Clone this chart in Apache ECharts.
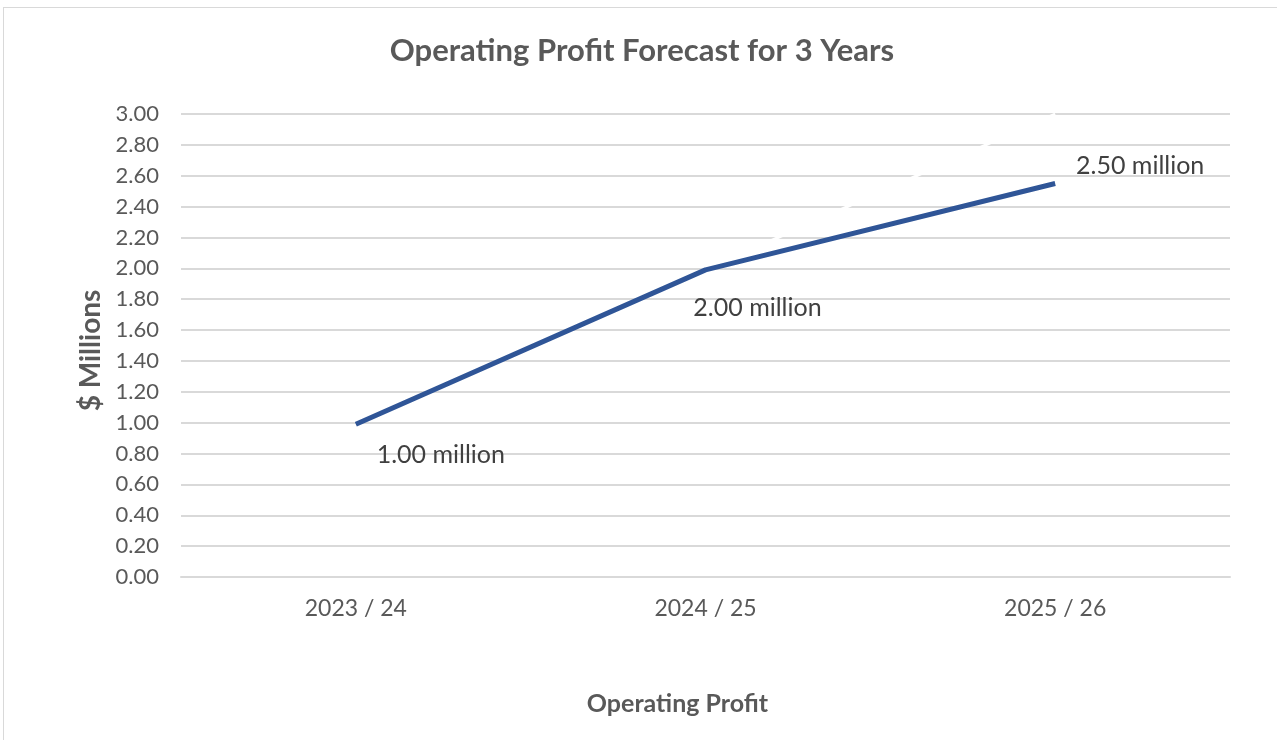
<!DOCTYPE html>
<html><head><meta charset="utf-8">
<script src="https://cdn.jsdelivr.net/npm/echarts@6/dist/echarts.min.js"></script>
<style>html,body{margin:0;padding:0;background:#fff}#c{width:1277px;height:740px;box-sizing:border-box;border:1px solid #d9d9d9;border-right:none;border-bottom:none;position:absolute;left:3px;top:7px}</style>
</head><body><div id="c"></div>
<script>
const categories = ['2023 / 24', '2024 / 25', '2025 / 26'];
const profitValues = [0.99, 1.99, 2.55];
const profitLabels = ['1.00 million', '2.00 million', '2.50 million'];
const trendValues = [null, 1.99, 3.0];
const yTicks = [0, 3, 0.2];

const labelOffsets = [[85, 31], [52, 38], [85, -18]];

const chart = echarts.init(document.getElementById('c'));
const FONT = 'Lato';
chart.setOption({
  animation: false,
  title: {
    text: 'Operating Profit Forecast for 3 Years',
    left: 'center', top: 22,
    textStyle: {fontFamily: FONT, fontSize: 31, fontWeight: 'bold', color: '#595959'}
  },
  grid: {left: 177, right: 50, top: 106, bottom: 170},
  xAxis: {
    type: 'category', data: categories, boundaryGap: true,
    name: 'Operating Profit', nameLocation: 'middle', nameGap: 114,
    nameTextStyle: {fontFamily: FONT, fontSize: 25, fontWeight: 'bold', color: '#595959', padding: [0, 56, 0, 0]},
    axisLine: {lineStyle: {color: '#d9d9d9', width: 2}},
    axisTick: {show: false},
    axisLabel: {fontFamily: FONT, fontSize: 23, color: '#595959', margin: 20}
  },
  yAxis: {
    type: 'value', min: yTicks[0], max: yTicks[1], interval: yTicks[2],
    name: '$ Millions', nameLocation: 'middle', nameGap: 70, nameRotate: 90,
    nameTextStyle: {fontFamily: FONT, fontSize: 28, fontWeight: 'bold', color: '#595959', padding: [0, 10, 0, 0]},
    axisLine: {show: false}, axisTick: {show: false},
    axisLabel: {fontFamily: FONT, fontSize: 22, color: '#595959', margin: 22,
      formatter: v => v.toFixed(2)},
    splitLine: {lineStyle: {color: '#d9d9d9', width: 2}}
  },
  series: [
    {
      type: 'line', data: trendValues, symbol: 'none', silent: true,
      lineStyle: {color: '#ffffff', width: 3}, z: 3
    },
    {
      type: 'line', z: 4,
      data: profitValues.map((v, i) => ({
        value: v,
        label: {offset: labelOffsets[i]}
      })),
      symbol: 'circle', symbolSize: 1, showSymbol: true,
      itemStyle: {color: 'rgba(0,0,0,0)'},
      lineStyle: {color: '#2f5597', width: 5},
      label: {show: true, position: 'inside', align: 'center', verticalAlign: 'middle',
        fontFamily: FONT, fontSize: 25, color: '#404040',
        formatter: p => profitLabels[p.dataIndex]}
    }
  ]
});
</script></body></html>
